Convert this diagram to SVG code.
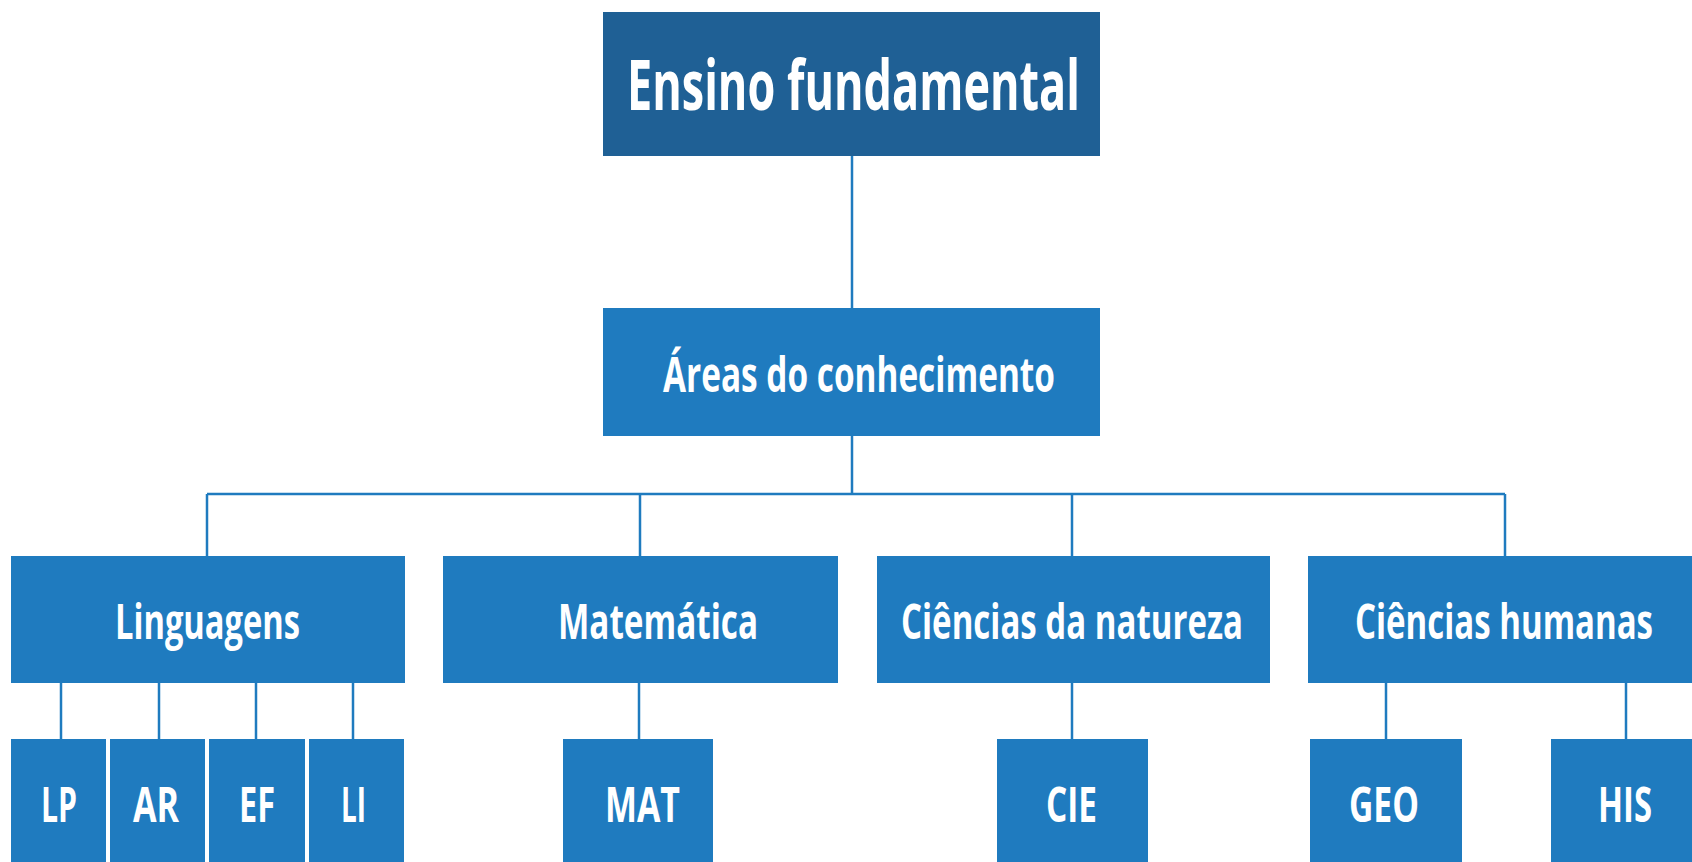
<svg xmlns="http://www.w3.org/2000/svg" width="1692" height="862" viewBox="0 0 1692 862">
<style>
.box{fill:#1F7BBF}
.top{fill:#1F6095}
.lbl{font-family:"Open Sans","Noto Sans","Liberation Sans",sans-serif;font-weight:700;fill:#fff}
.c{stroke:#1F7BBF;stroke-width:2.5;fill:none}
</style>
<rect width="1692" height="862" fill="#fff"/>
<g id="connectors">
<line class="c" x1="852" y1="156" x2="852" y2="308"/>
<line class="c" x1="852" y1="436" x2="852" y2="494"/>
<line class="c" x1="207" y1="494" x2="1505" y2="494"/>
<line class="c" x1="207" y1="494" x2="207" y2="556"/>
<line class="c" x1="640" y1="494" x2="640" y2="556"/>
<line class="c" x1="1072" y1="494" x2="1072" y2="556"/>
<line class="c" x1="1505" y1="494" x2="1505" y2="556"/>
<line class="c" x1="61" y1="683" x2="61" y2="739"/>
<line class="c" x1="159" y1="683" x2="159" y2="739"/>
<line class="c" x1="256" y1="683" x2="256" y2="739"/>
<line class="c" x1="353" y1="683" x2="353" y2="739"/>
<line class="c" x1="639" y1="683" x2="639" y2="739"/>
<line class="c" x1="1072" y1="683" x2="1072" y2="739"/>
<line class="c" x1="1386" y1="683" x2="1386" y2="739"/>
<line class="c" x1="1626" y1="683" x2="1626" y2="739"/>
</g>
<g id="ensino">
<rect class="top" x="603" y="12" width="497" height="144"/>
<text class="lbl" x="627" y="110" font-size="70" textLength="453" lengthAdjust="spacingAndGlyphs">Ensino fundamental</text>
</g>
<g id="areas">
<rect class="box" x="603" y="308" width="497" height="128"/>
<text class="lbl" x="663" y="392" font-size="48" textLength="392" lengthAdjust="spacingAndGlyphs">Áreas do conhecimento</text>
</g>
<g id="linguagens">
<rect class="box" x="11" y="556" width="394" height="127"/>
<text class="lbl" x="115" y="639" font-size="49" textLength="185" lengthAdjust="spacingAndGlyphs">Linguagens</text>
</g>
<g id="matematica">
<rect class="box" x="443" y="556" width="395" height="127"/>
<text class="lbl" x="558" y="639" font-size="49" textLength="200" lengthAdjust="spacingAndGlyphs">Matemática</text>
</g>
<g id="natureza">
<rect class="box" x="877" y="556" width="393" height="127"/>
<text class="lbl" x="901" y="639" font-size="49" textLength="342" lengthAdjust="spacingAndGlyphs">Ciências da natureza</text>
</g>
<g id="humanas">
<rect class="box" x="1308" y="556" width="384" height="127"/>
<text class="lbl" x="1355" y="639" font-size="49" textLength="298" lengthAdjust="spacingAndGlyphs">Ciências humanas</text>
</g>
<g id="lp">
<rect class="box" x="11" y="739" width="95" height="123"/>
<text class="lbl" x="41" y="822" font-size="49" textLength="36" lengthAdjust="spacingAndGlyphs">LP</text>
</g>
<g id="ar">
<rect class="box" x="110" y="739" width="95" height="123"/>
<text class="lbl" x="133" y="822" font-size="49" textLength="46" lengthAdjust="spacingAndGlyphs">AR</text>
</g>
<g id="ef">
<rect class="box" x="209" y="739" width="96" height="123"/>
<text class="lbl" x="239" y="822" font-size="49" textLength="36" lengthAdjust="spacingAndGlyphs">EF</text>
</g>
<g id="li">
<rect class="box" x="309" y="739" width="95" height="123"/>
<text class="lbl" x="341" y="822" font-size="49" textLength="25" lengthAdjust="spacingAndGlyphs">LI</text>
</g>
<g id="mat">
<rect class="box" x="563" y="739" width="150" height="123"/>
<text class="lbl" x="605" y="822" font-size="49" textLength="75" lengthAdjust="spacingAndGlyphs">MAT</text>
</g>
<g id="cie">
<rect class="box" x="997" y="739" width="151" height="123"/>
<text class="lbl" x="1046" y="822" font-size="49" textLength="51" lengthAdjust="spacingAndGlyphs">CIE</text>
</g>
<g id="geo">
<rect class="box" x="1310" y="739" width="152" height="123"/>
<text class="lbl" x="1349" y="822" font-size="49" textLength="70" lengthAdjust="spacingAndGlyphs">GEO</text>
</g>
<g id="his">
<rect class="box" x="1551" y="739" width="141" height="123"/>
<text class="lbl" x="1598" y="822" font-size="49" textLength="54" lengthAdjust="spacingAndGlyphs">HIS</text>
</g>
</svg>
